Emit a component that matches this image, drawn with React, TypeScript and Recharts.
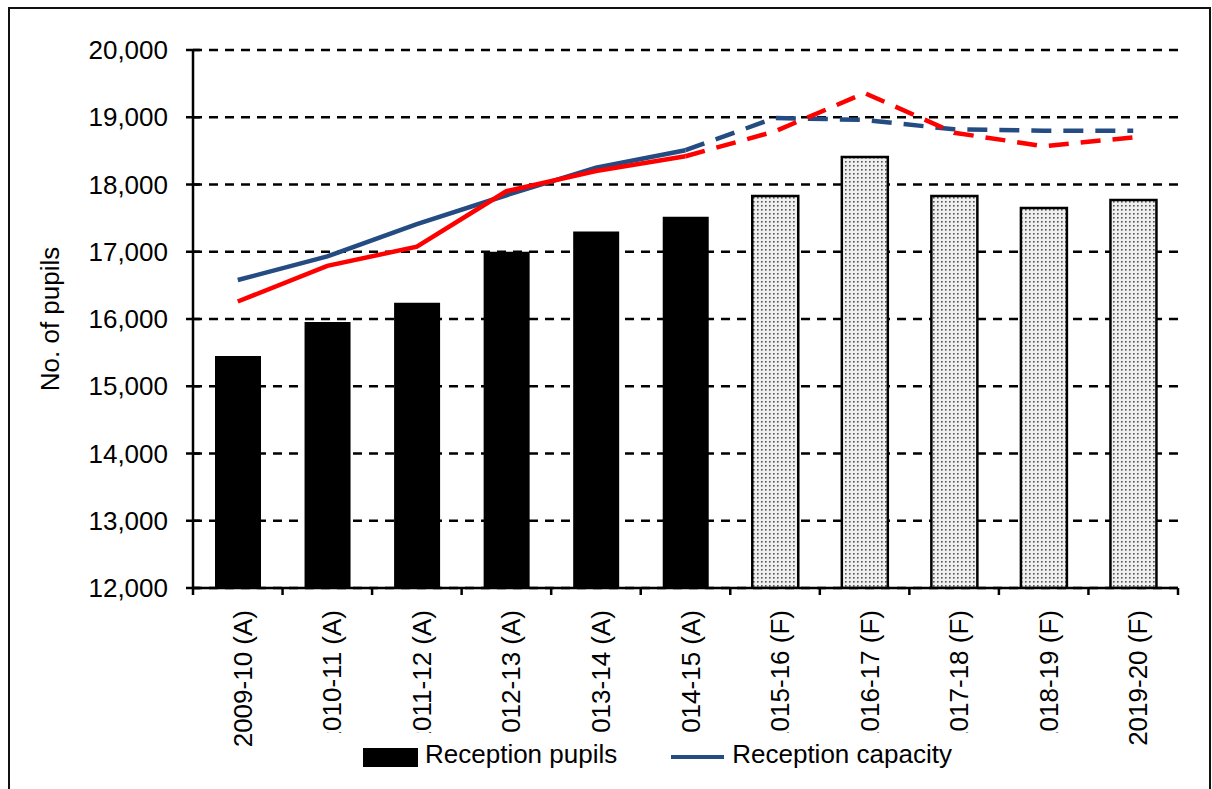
import { ComposedChart, Bar, Line, XAxis, YAxis, CartesianGrid, Legend, Cell } from 'recharts'

const categories = [
  '2009-10 (A)', '2010-11 (A)', '2011-12 (A)', '2012-13 (A)', '2013-14 (A)', '2014-15 (A)',
  '2015-16 (F)', '2016-17 (F)', '2017-18 (F)', '2018-19 (F)', '2019-20 (F)'
]
const pupils = [15450, 15955, 16240, 17000, 17300, 17520, 17830, 18410, 17830, 17650, 17770]
const capacity = [16580, 16930, 17410, 17840, 18250, 18510, 18990, 18960, 18820, 18800, 18800]
const required = [16260, 16790, 17075, 17900, 18200, 18420, 18790, 19360, 18770, 18570, 18700]
const yTicks = [12000, 13000, 14000, 15000, 16000, 17000, 18000, 19000, 20000]
const lastActual = 5

const data = categories.map((year, i) => ({
  year,
  pupils: pupils[i],
  capActual: i <= lastActual ? capacity[i] : null,
  capForecast: i >= lastActual ? capacity[i] : null,
  reqActual: i <= lastActual ? required[i] : null,
  reqForecast: i >= lastActual ? required[i] : null
}))

const FONT = '"Liberation Sans", Arial, sans-serif'
const BLUE = '#254C82'
const RED = '#FF0000'
const BAND = 985 / 11

const fmt = (v: number) => String(v).replace(/\B(?=(\d{3})+(?!\d))/g, ',')

function YTick({ x, y, payload }: any) {
  return (
    <g>
      <line x1={x + 18} x2={x + 32} y1={y} y2={y} stroke="#000" strokeWidth={2.5} />
      <text x={x} y={y} textAnchor="end" dominantBaseline="central" fontSize={26} fill="#000" fontFamily={FONT}>
        {fmt(payload.value)}
      </text>
    </g>
  )
}

function XTick({ x, y, payload, index }: any) {
  const half = BAND / 2
  const tx = x + 5
  const ty = y + 22
  return (
    <g>
      <line x1={x - half} x2={x - half} y1={y} y2={y + 7} stroke="#000" strokeWidth={2.5} />
      {index === categories.length - 1 && (
        <line x1={x + half} x2={x + half} y1={y} y2={y + 7} stroke="#000" strokeWidth={2.5} />
      )}
      <text
        x={tx}
        y={ty}
        transform={`rotate(-90 ${tx} ${ty})`}
        textAnchor="end"
        dominantBaseline="central"
        fontSize={26}
        fill="#000"
        fontFamily={FONT}
      >
        {payload.value}
      </text>
    </g>
  )
}

function YTitle({ viewBox }: any) {
  const cy = viewBox.y + viewBox.height / 2
  return (
    <text
      x={50}
      y={cy}
      transform={`rotate(-90 50 ${cy})`}
      textAnchor="middle"
      dominantBaseline="central"
      fontSize={26}
      fill="#000"
      fontFamily={FONT}
    >
      No. of pupils
    </text>
  )
}

// only the two series the reference shows in its legend, bar first
const legendNames = ['Reception pupils', 'Reception capacity']

function LegendContent({ payload }: any) {
  const items = legendNames
    .map((n) => (payload || []).find((e: any) => e.value === n))
    .filter(Boolean)
  return (
    <div style={{ display: 'flex', alignItems: 'flex-start', paddingLeft: 73, fontFamily: FONT, fontSize: 26, color: '#000' }}>
      {items.map((entry: any, i: number) => (
        <div key={i} style={{ display: 'flex', alignItems: 'flex-start', marginRight: 54 }}>
          {entry.type === 'rect' ? (
            <div style={{ width: 55, height: 19, marginTop: 15, marginRight: 7, background: '#000' }} />
          ) : (
            <div style={{ width: 53, height: 4, marginTop: 22, marginRight: 8, background: BLUE }} />
          )}
          <span style={{ marginTop: 8, lineHeight: '26px', whiteSpace: 'nowrap' }}>{entry.value}</span>
        </div>
      ))}
    </div>
  )
}

export default function App() {
  return (
    <div style={{ position: 'absolute', left: 0, top: 0, width: 1212, height: 789, overflow: 'hidden', background: '#fff' }}>
      <div
        style={{
          position: 'absolute',
          left: 8,
          top: 7,
          width: 1203,
          height: 820,
          border: '2px solid #111',
          boxSizing: 'border-box'
        }}
      />
      <ComposedChart
        width={1212}
        height={789}
        data={data}
        margin={{ top: 50, right: 34, left: 0, bottom: 0 }}
        barCategoryGap={0}
      >
        <defs>
          <pattern id="stipple" width="4" height="4" patternUnits="userSpaceOnUse">
            <rect width="4" height="4" fill="#f0f0f0" />
            <rect x="1" y="1" width="1.6" height="1.6" fill="#555" />
          </pattern>
        </defs>
        <CartesianGrid vertical={false} stroke="#000" strokeWidth={2.5} strokeDasharray="9 7" />
        <XAxis
          dataKey="year"
          height={201}
          interval={0}
          tickSize={0}
          tickMargin={0}
          tickLine={false}
          axisLine={{ stroke: '#000', strokeWidth: 2.5 }}
          tick={<XTick />}
        />
        <YAxis
          width={193}
          domain={[12000, 20000]}
          ticks={yTicks}
          allowDataOverflow
          tickSize={7}
          tickMargin={18}
          tickLine={false}
          axisLine={{ stroke: '#000', strokeWidth: 2.5 }}
          tick={<YTick />}
          label={{ content: YTitle }}
        />
        <Legend
          verticalAlign="middle"
          align="center"
          layout="horizontal"
          wrapperStyle={{ left: 290, top: 733, width: 810, height: 56, background: '#fff' }}
          content={<LegendContent />}
        />
        <Bar dataKey="pupils" name="Reception pupils" fill="#000" barSize={46} legendType="rect" isAnimationActive={false}>
          {data.map((d, i) => (
            <Cell
              key={d.year}
              fill={i <= lastActual ? '#000' : 'url(#stipple)'}
              stroke={i <= lastActual ? 'none' : '#000'}
              strokeWidth={2.5}
            />
          ))}
        </Bar>
        <Line type="linear" dataKey="capActual" name="Reception capacity" stroke={BLUE} strokeWidth={4.5} dot={false} activeDot={false} isAnimationActive={false} />
        <Line type="linear" dataKey="capForecast" name="Reception capacity (forecast)" legendType="none" stroke={BLUE} strokeWidth={4.5} strokeDasharray="20 12" dot={false} activeDot={false} isAnimationActive={false} />
        <Line type="linear" dataKey="reqActual" name="Places required" legendType="none" stroke={RED} strokeWidth={4.5} dot={false} activeDot={false} isAnimationActive={false} />
        <Line type="linear" dataKey="reqForecast" name="Places required (forecast)" legendType="none" stroke={RED} strokeWidth={4.5} strokeDasharray="20 12" dot={false} activeDot={false} isAnimationActive={false} />
      </ComposedChart>
    </div>
  )
}
